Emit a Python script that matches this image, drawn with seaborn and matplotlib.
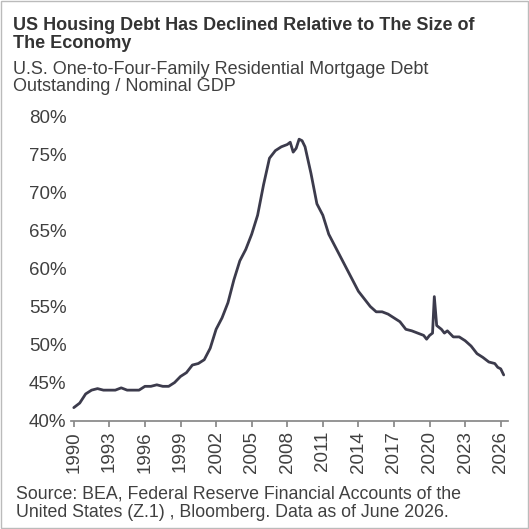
import matplotlib
matplotlib.use("Agg")
import matplotlib.pyplot as plt
import seaborn as sns
import pandas as pd
import numpy as np
from matplotlib.ticker import FuncFormatter

years = [1990, 1990.5, 1991, 1991.5, 1992, 1992.5, 1993, 1993.5, 1994, 1994.5, 1995, 1995.5, 1996, 1996.5, 1997, 1997.5, 1998, 1998.5,
         1999, 1999.5, 2000, 2000.5, 2001, 2001.5, 2002, 2002.5, 2003, 2003.5, 2004, 2004.5, 2005, 2005.5, 2006, 2006.5,
         2007, 2007.5, 2008, 2008.25, 2008.5, 2008.75, 2009, 2009.25, 2009.5, 2010, 2010.5, 2011, 2011.5, 2012, 2012.5,
         2013, 2013.5, 2014, 2014.5, 2015, 2015.5, 2016, 2016.5, 2017, 2017.5, 2018, 2018.5, 2019, 2019.5, 2019.75,
         2020, 2020.25, 2020.4, 2020.6, 2021, 2021.25, 2021.5, 2022, 2022.5, 2023, 2023.5, 2024, 2024.5, 2025, 2025.5,
         2025.75, 2026, 2026.25]
ratio = [41.7, 42.3, 43.5, 44.0, 44.2, 44.0, 44.0, 44.0, 44.3, 44.0, 44.0, 44.0, 44.5, 44.5, 44.7, 44.5, 44.5, 45.0,
         45.8, 46.3, 47.3, 47.5, 48.0, 49.5, 52.0, 53.5, 55.5, 58.5, 61.0, 62.5, 64.5, 67.0, 71.0, 74.5,
         75.5, 76.0, 76.3, 76.6, 75.3, 75.8, 77.0, 76.8, 76.0, 72.5, 68.5, 67.0, 64.5, 63.0, 61.5,
         60.0, 58.5, 57.0, 56.0, 55.0, 54.3, 54.3, 54.0, 53.5, 53.0, 52.0, 51.8, 51.5, 51.2, 50.7,
         51.2, 51.5, 56.3, 52.5, 52.0, 51.5, 51.8, 51.0, 51.0, 50.5, 49.8, 48.8, 48.3, 47.7, 47.5,
         47.0, 46.8, 46.0]
xticks = list(range(1990, 2027, 3))

df = pd.DataFrame({"year": years, "ratio": ratio})
sns.set_theme(style="white")
plt.rcParams['font.family'] = ['Liberation Sans', 'DejaVu Sans']

fig = plt.figure(figsize=(5.29, 5.29), dpi=100)
ax = fig.add_axes([0.135, 0.205, 0.825, 0.575])
sns.lineplot(data=df, x="year", y="ratio", ax=ax, color="#3c3b4c", linewidth=2)
ax.set_xlim(1989.8, 2026.6)
ax.set_ylim(40, 80)
ax.set_yticks(range(40, 81, 5))
ax.yaxis.set_major_formatter(FuncFormatter(lambda v, p: f"{int(v)}%"))
ax.set_xticks(xticks)
ax.set_xticklabels([str(t) for t in xticks], rotation=90)
ax.tick_params(axis='both', labelsize=13.5, colors="#404040", length=0)
ax.tick_params(axis='x', length=4, direction='out', bottom=True, color="#888888")
ax.set_xlabel(""); ax.set_ylabel("")
for s in ["top", "right", "left"]:
    ax.spines[s].set_visible(False)
ax.spines["bottom"].set_color("#888888")

fig.text(0.025, 0.968, "US Housing Debt Has Declined Relative to The Size of\nThe Economy", fontsize=13,
         fontweight="bold", color="#333333", va="top", linespacing=1.05)
fig.text(0.025, 0.885, "U.S. One-to-Four-Family Residential Mortgage Debt\nOutstanding / Nominal GDP", fontsize=13,
         color="#404040", va="top", linespacing=1.05)
fig.text(0.03, 0.015, "Source: BEA, Federal Reserve Financial Accounts of the\nUnited States (Z.1) , Bloomberg. Data as of June 2026.",
         fontsize=12.8, color="#404040", va="bottom", linespacing=1.1)
fig.patches.append(plt.Rectangle((0.002, 0.002), 0.996, 0.996, transform=fig.transFigure, fill=False,
                                 edgecolor="#bbbbbb", linewidth=1))
fig.savefig("out.png", dpi=100)
